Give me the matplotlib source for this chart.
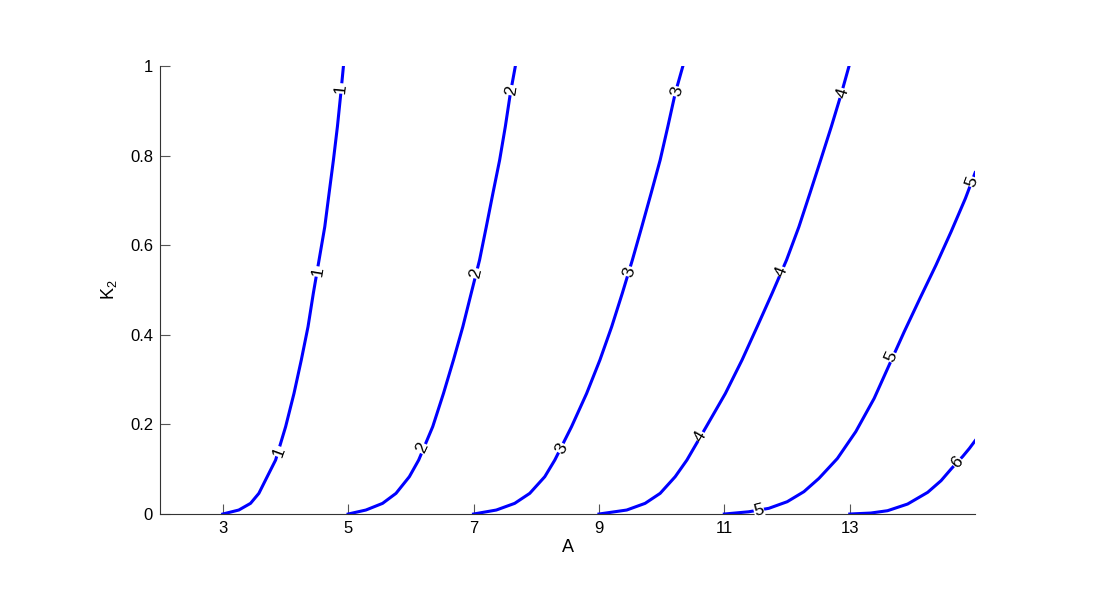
import numpy as np
import matplotlib.pyplot as plt

plt.rcParams['font.family'] = ['Liberation Sans', 'DejaVu Sans']
plt.rcParams['mathtext.default'] = 'regular'

# contour levels, points (A, K2)
levels = [1, 2, 3, 4, 5, 6]
kk = [0.0, 0.0089, 0.0238, 0.0461, 0.0833, 0.1205, 0.195, 0.269, 0.344,
      0.418, 0.493, 0.567, 0.641, 0.716, 0.790, 0.865, 0.939, 1.0]
a1 = [3.0, 3.256, 3.443, 3.576, 3.709, 3.843, 4.003, 4.136, 4.253,
      4.36, 4.445, 4.536, 4.627, 4.696, 4.765, 4.829, 4.883, 4.925]
a2 = [5.0, 5.283, 5.549, 5.763, 5.976, 6.125, 6.349, 6.52, 6.68,
      6.829, 6.963, 7.096, 7.203, 7.309, 7.416, 7.507, 7.587, 7.667]
a3 = [7.0, 7.363, 7.656, 7.896, 8.136, 8.296, 8.563, 8.803, 9.016,
      9.203, 9.373, 9.533, 9.683, 9.832, 9.976, 10.099, 10.216, 10.339]
a4 = [9.0, 9.443, 9.736, 9.976, 10.216, 10.403, 10.712, 11.016, 11.283,
      11.523, 11.763, 11.992, 12.189, 12.365, 12.536, 12.707, 12.867, 12.989]
k1 = kk
k2 = kk
k3 = kk
k4 = kk
a5 = [11.0, 11.389, 11.709, 12.003, 12.269, 12.509, 12.803, 13.096,
      13.389, 13.629, 13.869, 14.12, 14.376, 14.616, 14.845, 15.0]
k5 = [0.0, 0.005, 0.0127, 0.0275, 0.0499, 0.0796, 0.124, 0.1838,
      0.258, 0.3326, 0.407, 0.4814, 0.5558, 0.630, 0.7046, 0.762]
a6 = [13.0, 13.336, 13.603, 13.923, 14.243, 14.456, 14.616, 14.712, 14.803, 14.909, 15.0]
k6 = [0.0, 0.0022, 0.0074, 0.0223, 0.0484, 0.0744, 0.1004, 0.1153, 0.1287, 0.1466, 0.1637]
curves_a = [a1, a2, a3, a4, a5, a6]
curves_k = [k1, k2, k3, k4, k5, k6]

# inline label positions (level index, A, K2)
lab_lvl = [0, 0, 0, 1, 1, 1, 2, 2, 2, 3, 3, 3, 4, 4, 4, 5]
lab_a = [3.90, 4.52, 4.88, 6.18, 7.04, 7.60, 8.40, 9.49, 10.24, 10.62, 11.91, 12.88, 11.55, 13.66, 14.94, 14.71]
lab_k = [0.139, 0.541, 0.950, 0.147, 0.537, 0.946, 0.147, 0.541, 0.943, 0.173, 0.541, 0.939, 0.009, 0.351, 0.742, 0.116]

fig = plt.figure(figsize=(11, 6), dpi=100)
ax = fig.add_axes([0.1455, 0.1433, 0.741, 0.7467])

for a, k in zip(curves_a, curves_k):
    ax.plot(a, k, color='#0000ff', lw=2.2, solid_joinstyle='round', zorder=2)

ax.set_xlim(2, 15)
ax.set_ylim(0, 1)
ax.set_xticks([3, 5, 7, 9, 11, 13])
ax.set_yticks([0, 0.2, 0.4, 0.6, 0.8, 1])
ax.set_yticklabels(['0', '0.2', '0.4', '0.6', '0.8', '1'])
ax.tick_params(direction='in', length=7, width=0.8, labelsize=12, color='#555555', pad=5)
for s in ['top', 'right']:
    ax.spines[s].set_visible(False)
for s in ['left', 'bottom']:
    ax.spines[s].set_color('#333333')
    ax.spines[s].set_linewidth(0.8)
ax.set_xlabel('A', fontsize=13, labelpad=2)
ax.set_ylabel('K$_2$', fontsize=13, labelpad=8)

# rotate labels along the curve in screen space
for i, x, y in zip(lab_lvl, lab_a, lab_k):
    pts = ax.transData.transform(np.column_stack([curves_a[i], curves_k[i]]))
    p = ax.transData.transform((x, y))
    d = np.hypot(pts[:, 0] - p[0], pts[:, 1] - p[1])
    j = int(np.argmin(d))
    j0, j1 = max(j - 1, 0), min(j + 1, len(pts) - 1)
    dx, dy = pts[j1] - pts[j0]
    ang = np.degrees(np.arctan2(dy, dx))
    ax.text(x, y, str(levels[i]), rotation=ang, rotation_mode='anchor',
            ha='center', va='center', fontsize=12.5, zorder=3, clip_on=False,
            bbox=dict(facecolor='white', edgecolor='none', pad=0.3))

fig.savefig('out.png', dpi=100)
